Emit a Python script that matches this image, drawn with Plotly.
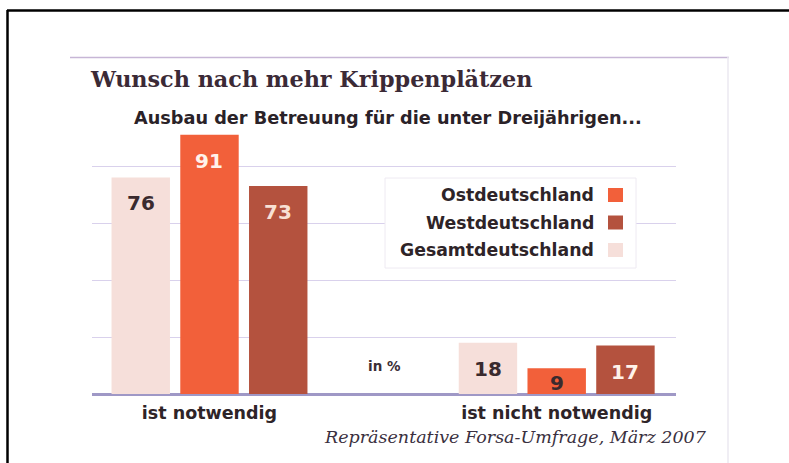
import plotly.graph_objects as go

# ---- data ----
categories = ["ist notwendig", "ist nicht notwendig"]
series_names = ["Gesamtdeutschland", "Ostdeutschland", "Westdeutschland"]
gesamt = [76, 18]
ost = [91, 9]
west = [73, 17]
legend_order = ["Ostdeutschland", "Westdeutschland", "Gesamtdeutschland"]

title_text = "Wunsch nach mehr Krippenplätzen"
subtitle_text = "Ausbau der Betreuung für die unter Dreijährigen..."
unit_text = "in %"
source_text = "Repräsentative Forsa-Umfrage, März 2007"

# ---- style ----
colors = {"Gesamtdeutschland": "#f6dfda", "Ostdeutschland": "#f2603a", "Westdeutschland": "#b4523e"}
label_colors = {"Gesamtdeutschland": ["#3a2a2e", "#3a2a2e"],
                "Ostdeutschland": ["#fff2ea", "#3a2a2e"],
                "Westdeutschland": ["#f8e0d4", "#fff2ea"]}
W, H = 789, 463
L, R, T, B = 92, 113, 115, 69
PW, PH = W - L - R, H - T - B
YMAX = PH / 2.85
SLOT = 0.198


def px(x):
    return (x - L) / PW


def py(y):
    return (H - B - y) / PH


values = {"Gesamtdeutschland": gesamt, "Ostdeutschland": ost, "Westdeutschland": west}

fig = go.Figure()
for name in series_names:
    fig.add_trace(go.Bar(x=categories, y=values[name], name=name,
                         marker=dict(color=colors[name], line=dict(width=0)),
                         showlegend=False, hoverinfo="skip"))

annotations = []
# bar value labels
for si, name in enumerate(series_names):
    off = (si - 1) * SLOT
    for ci, v in enumerate(values[name]):
        shift = -12 if v * 2.85 > 40 else -1
        annotations.append(dict(x=ci + off, y=v, xref="x", yref="y", text="<b>" + str(v) + "</b>",
                                showarrow=False, yanchor="top", yshift=shift,
                                font=dict(family="DejaVu Sans", size=20,
                                          color=label_colors[name][ci])))

# title & texts
annotations += [
    dict(x=px(88), y=py(79), xref="paper", yref="paper", text="<b>" + title_text + "</b>",
         showarrow=False, xanchor="left", yanchor="middle",
         font=dict(family="DejaVu Serif", size=22.3, color="#3b2a36")),
    dict(x=px(132), y=py(118), xref="paper", yref="paper", text="<b>" + subtitle_text + "</b>",
         showarrow=False, xanchor="left", yanchor="middle",
         font=dict(family="DejaVu Sans", size=17.7, color="#2a2228")),
    dict(x=px(384), y=py(366), xref="paper", yref="paper", text="<b>" + unit_text + "</b>",
         showarrow=False, xanchor="center", yanchor="middle",
         font=dict(family="DejaVu Sans", size=13.5, color="#3a2e36")),
    dict(x=px(709), y=py(437), xref="paper", yref="paper", text="<i>" + source_text + "</i>",
         showarrow=False, xanchor="right", yanchor="middle",
         font=dict(family="DejaVu Serif", size=17.5, color="#3a3040")),
]

shapes = [
    # scan border (top and left)
    dict(type="line", xref="paper", yref="paper", x0=px(7), x1=px(789), y0=py(10.5), y1=py(10.5),
         line=dict(color="black", width=2.5)),
    dict(type="line", xref="paper", yref="paper", x0=px(7.5), x1=px(7.5), y0=py(10), y1=py(463),
         line=dict(color="black", width=2.5)),
    # panel frame
    dict(type="line", xref="paper", yref="paper", x0=px(70), x1=px(729), y0=py(57.5), y1=py(57.5),
         line=dict(color="#c7b6d6", width=1.5)),
    dict(type="line", xref="paper", yref="paper", x0=px(728), x1=px(728), y0=py(57), y1=py(463),
         line=dict(color="#ebe8f0", width=1.5)),
    # legend box
    dict(type="rect", xref="paper", yref="paper", x0=px(385), x1=px(636), y0=py(178), y1=py(268),
         fillcolor="white", line=dict(color="#eeeaf2", width=1), layer="above"),
]

# custom legend (text right, swatch on right)
for i, name in enumerate(legend_order):
    yc = 195 + i * 27.5
    annotations.append(dict(x=px(596), y=py(yc), xref="paper", yref="paper",
                            text="<b>" + name + "</b>", showarrow=False,
                            xanchor="right", yanchor="middle",
                            font=dict(family="DejaVu Sans", size=17.3, color="#2e2428")))
    shapes.append(dict(type="rect", xref="paper", yref="paper", x0=px(608), x1=px(623),
                       y0=py(yc - 7), y1=py(yc + 7), fillcolor=colors[name],
                       line=dict(width=0), layer="above"))

fig.update_layout(
    width=W, height=H,
    margin=dict(l=L, r=R, t=T, b=B, pad=0),
    paper_bgcolor="white", plot_bgcolor="white",
    barmode="group", bargap=0.406, bargroupgap=0.15,
    annotations=annotations, shapes=shapes,
    xaxis=dict(type="category", range=[-0.3384, 1.3436], showgrid=False, zeroline=False,
               showline=False, ticks="", ticklabelstandoff=6,
               tickfont=dict(family="DejaVu Sans", size=17.5, color="#2e2428"),
               tickvals=categories, ticktext=["<b>" + c + "</b>" for c in categories]),
    yaxis=dict(range=[0, YMAX], dtick=20, showticklabels=False, ticks="",
               showgrid=True, gridcolor="#d9d1ec", gridwidth=1.2,
               zeroline=True, zerolinecolor="#9f98c6", zerolinewidth=2.5, showline=False),
)

fig.write_html("out.html")
